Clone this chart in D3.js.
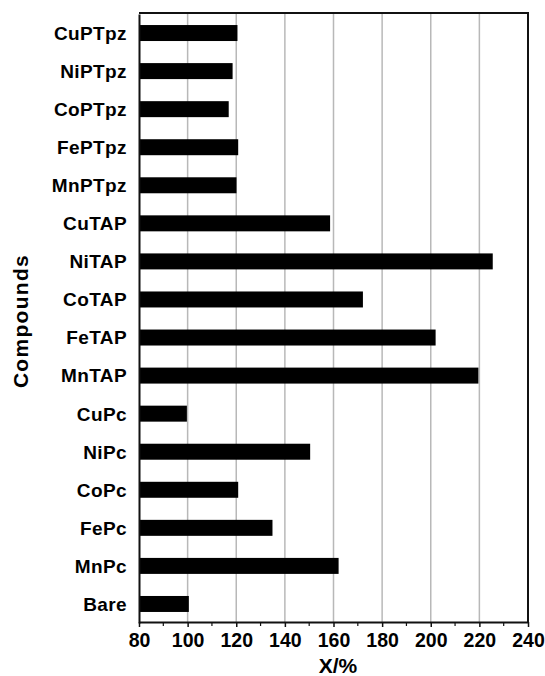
<!DOCTYPE html>
<html lang="en">
<head>
    <meta charset="utf-8">
    <title>Compounds X/% bar chart</title>
    <style>
        body {
            margin: 0;
            background: #fff;
        }
        svg text {
            font-family: "Liberation Sans", Arial, sans-serif;
            font-weight: bold;
            fill: #000;
        }
    </style>
</head>
<body>
    <script src="https://d3js.org/d3.v7.min.js"></script>
    <script>
        // data, top to bottom
        var compounds = ["CuPTpz", "NiPTpz", "CoPTpz", "FePTpz", "MnPTpz",
                         "CuTAP", "NiTAP", "CoTAP", "FeTAP", "MnTAP",
                         "CuPc", "NiPc", "CoPc", "FePc", "MnPc", "Bare"];
        var values = [120.5, 118.5, 116.9, 120.8, 120.1,
                      158.6, 225.5, 172.1, 202, 219.6,
                      99.7, 150.4, 120.8, 134.9, 162.1, 100.5];
        var xTicks = [80, 100, 120, 140, 160, 180, 200, 220, 240];
        var xMinorTicks = [90, 110, 130, 150, 170, 190, 210, 230];

        var w = 545;
        var h = 676;
        var pLeft = 139, pRight = 528, pTop = 13, pBottom = 622;

        var svg = d3.select("body")
            .append("svg")
            .attr("width", w)
            .attr("height", h);

        var x = d3.scaleLinear().domain([80, 240]).range([pLeft, pRight]);
        // bands sit about a pixel lower than the frame
        var y = d3.scaleBand()
            .domain(compounds)
            .range([pTop + 1, pBottom + 1])
            .paddingInner(0.58)
            .paddingOuter(0.29);

        // vertical grid lines
        svg.append("g")
            .selectAll("line")
            .data(xTicks.slice(1, -1))
            .enter()
            .append("line")
            .attr("x1", function(d) { return x(d); })
            .attr("x2", function(d) { return x(d); })
            .attr("y1", pTop)
            .attr("y2", pBottom)
            .style("stroke", "#b8b8b8")
            .style("stroke-width", 1.5);

        // bars
        svg.append("g")
            .selectAll("rect")
            .data(compounds)
            .enter()
            .append("rect")
            .attr("x", x(80))
            .attr("y", function(d) { return y(d); })
            .attr("width", function(d, i) { return x(values[i]) - x(80); })
            .attr("height", y.bandwidth())
            .style("fill", "#000");

        // frame: top and right borders
        svg.append("path")
            .attr("d", "M" + pLeft + "," + pTop + "H" + pRight + "V" + pBottom)
            .style("fill", "none")
            .style("stroke", "#111")
            .style("stroke-width", 2);

        // y axis (category labels)
        var yAxis = svg.append("g")
            .attr("transform", "translate(" + pLeft + ",0)")
            .call(d3.axisLeft(y).tickSize(0).tickPadding(12));
        yAxis.select(".domain").style("stroke", "#111").style("stroke-width", 2);
        yAxis.selectAll("text")
            .style("font-size", "19px")
            .style("letter-spacing", "0.4px")
            .attr("dy", "0.36em");

        // x axis
        var xAxis = svg.append("g")
            .attr("transform", "translate(0," + pBottom + ")")
            .call(d3.axisBottom(x).tickValues(xTicks).tickSize(5).tickPadding(6).tickSizeOuter(0));
        xAxis.select(".domain").style("stroke", "#111").style("stroke-width", 2);
        xAxis.selectAll(".tick line").style("stroke", "#111").style("stroke-width", 1.5);
        xAxis.selectAll("text").style("font-size", "19.5px");

        svg.append("g")
            .attr("transform", "translate(0," + pBottom + ")")
            .selectAll("line")
            .data(xMinorTicks)
            .enter()
            .append("line")
            .attr("x1", function(d) { return x(d); })
            .attr("x2", function(d) { return x(d); })
            .attr("y1", 0)
            .attr("y2", 4)
            .style("stroke", "#111")
            .style("stroke-width", 1.2);

        // axis titles
        svg.append("text")
            .attr("x", 338)
            .attr("y", 673)
            .attr("text-anchor", "middle")
            .style("font-size", "21px")
            .text("X/%");

        svg.append("text")
            .attr("transform", "translate(28,321) rotate(-90)")
            .attr("text-anchor", "middle")
            .style("font-size", "21px")
            .style("letter-spacing", "1.3px")
            .text("Compounds");
    </script>
</body>
</html>
